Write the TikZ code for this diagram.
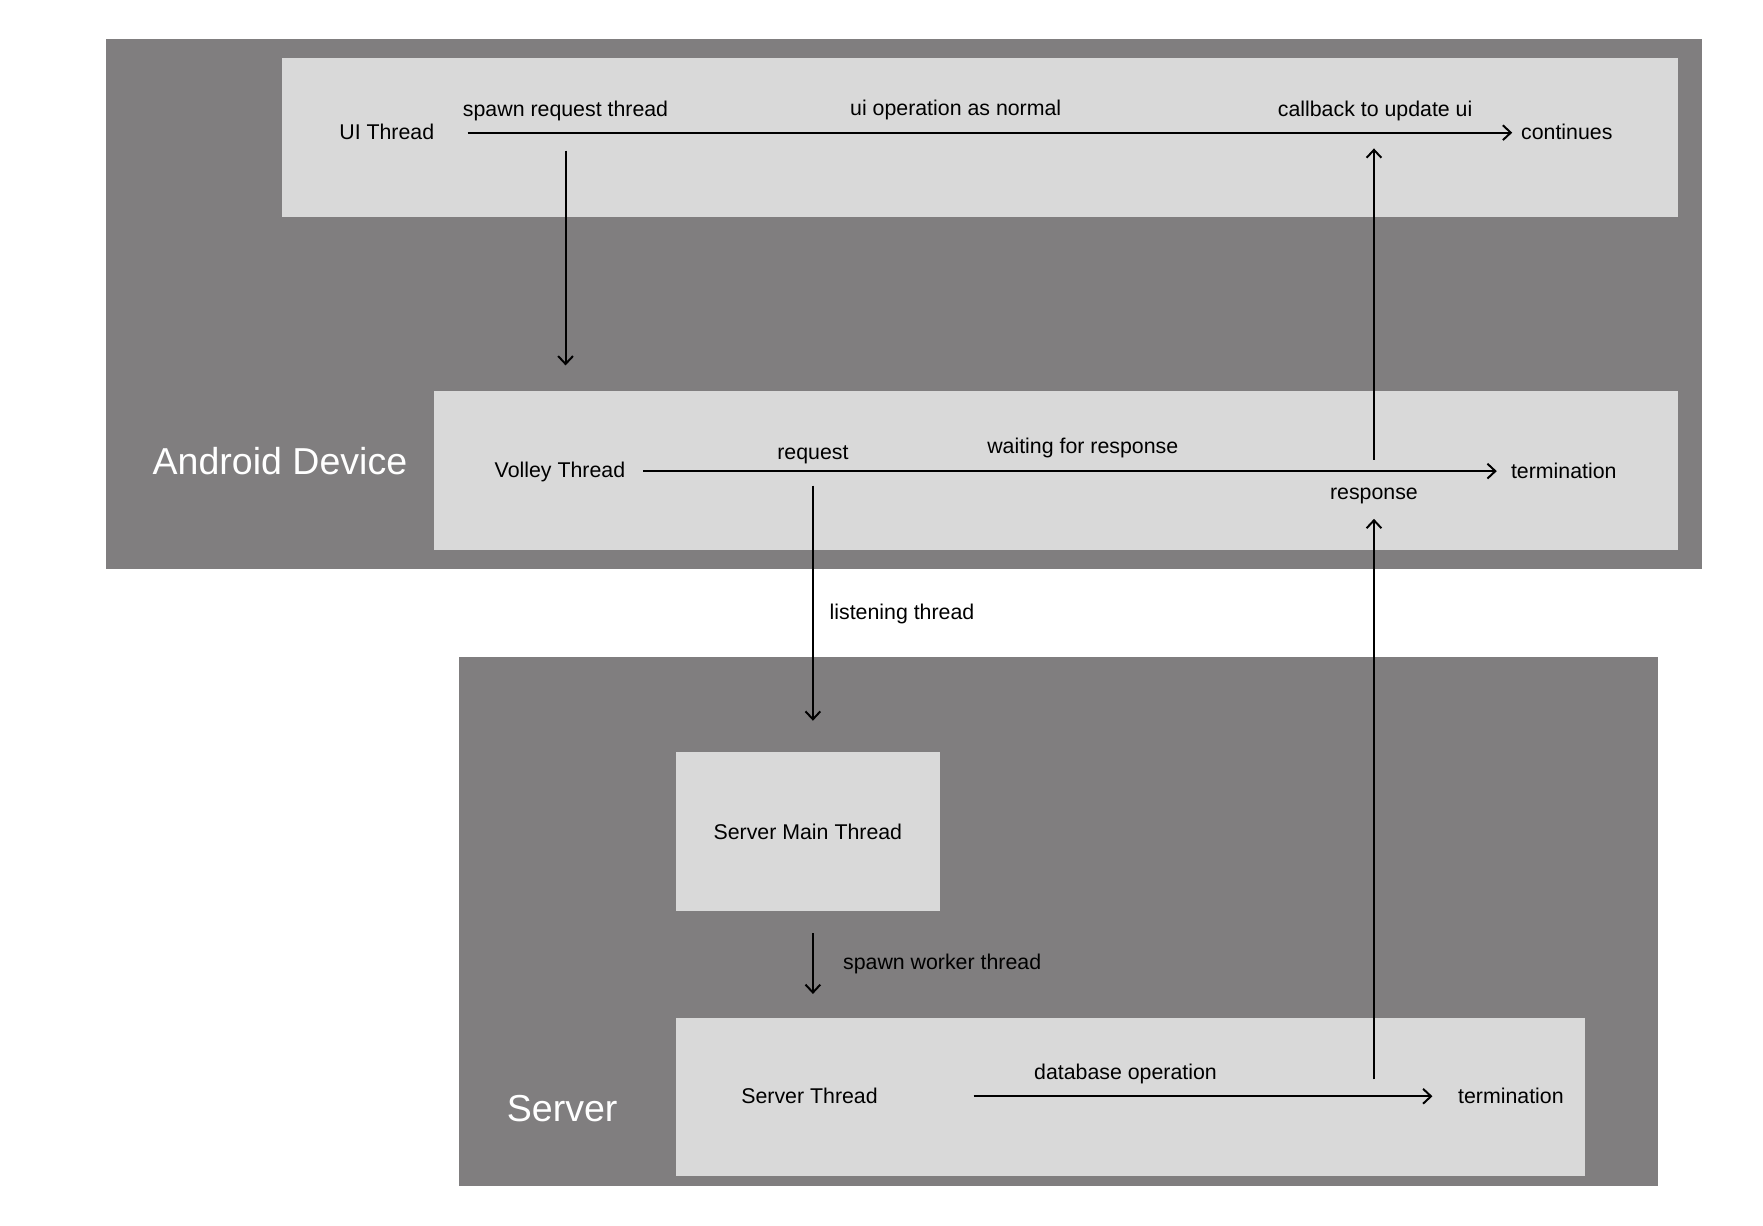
\documentclass[tikz,border=0pt]{standalone}
\usepackage{fontspec}
\setmainfont{Liberation Sans}
\usetikzlibrary{arrows.meta}
\definecolor{devgray}{HTML}{807E7F}
\definecolor{lanegray}{HTML}{D9D9D9}
\tikzset{
	lbl/.style={font=\fontsize{10.8}{13}\selectfont, inner sep=2pt, anchor=base},
	biglbl/.style={font=\fontsize{19}{23}\selectfont, text=white, inner sep=0pt, anchor=base},
	flow/.style={line width=1pt, -{Straight Barb[length=4pt,width=7.5pt]}},
}
\begin{document}
\begin{tikzpicture}[x=0.02cm, y=-0.02cm]
			%%%%% START %%%%%
			\useasboundingbox (0, 0) rectangle (1568, 1090);
			
			% android device
			\fill[devgray] (94, 35) rectangle (1514, 506);
			\fill[lanegray] (251, 52) rectangle (1492, 193);
			\fill[lanegray] (386, 348) rectangle (1492, 489);
			\node[biglbl] (android) at (249, 422) {Android Device};
			
			% server
			\fill[devgray] (408, 584) rectangle (1475, 1055);
			\fill[lanegray] (601, 905) rectangle (1410, 1046);
			\node[biglbl] (server) at (500, 997) {Server};
			\node[fill=lanegray, minimum width=4.7cm, minimum height=2.82cm, font=\fontsize{10.8}{13}\selectfont] (smain) at (718.5, 739.5) {Server Main Thread};
			
			% ui thread
			\node[lbl] (uithr) at (344, 124) {UI Thread};
			\node[lbl] (spawnlbl) at (503, 104) {spawn request thread};
			\node[lbl] (uiop) at (850, 103) {ui operation as normal};
			\node[lbl] (cbk) at (1223, 104) {callback to update ui};
			\node[lbl, anchor=base west] (cont) at (1349, 124) {continues};
			\coordinate (uistart) at (416, 118);
			\draw[flow, shorten >=2.3pt] (uistart) -- (uistart -| cont.west);
			
			% volley thread
			\node[lbl] (volley) at (498, 425) {Volley Thread};
			\node[lbl] (req) at (723, 409) {request};
			\node[lbl] (wait) at (963, 403) {waiting for response};
			\node[lbl, anchor=base west] (term1) at (1340, 426) {termination};
			\node[lbl] (resp) at (1222, 444) {response};
			\coordinate (vstart) at (572, 419);
			\draw[flow, shorten >=5pt] (vstart) -- (vstart -| term1.west);
			
			% server thread
			\node[lbl] (sthr) at (720, 981) {Server Thread};
			\node[lbl] (dbop) at (1001, 960) {database operation};
			\node[lbl, anchor=base west] (term2) at (1293, 981) {termination};
			\coordinate (sstart) at (866, 975);
			\coordinate (send) at (1274, 975);
			\draw[flow] (sstart) -- (send);
			
			% between threads
			\coordinate (spawnfoot) at (503, 134);
			\coordinate (spawnhead) at (503, 325);
			\draw[flow] (spawnfoot) -- (spawnhead);
			
			\coordinate (reqfoot) at (723, 432);
			\coordinate (reqhead) at (723, 641);
			\draw[flow] (reqfoot) -- (reqhead);
			\node[lbl, anchor=base west] (listen) at (734, 551) {listening thread};
			
			\coordinate (workfoot) at (723, 830);
			\coordinate (workhead) at (723, 884);
			\draw[flow] (workfoot) -- (workhead);
			\node[lbl, anchor=base west] (sworker) at (746, 862) {spawn worker thread};
			
			\coordinate (dbfoot) at (1222, 960);
			\draw[flow, shorten >=5.5pt] (dbfoot) -- (resp.south);
			\coordinate (cbfoot) at (1222, 409);
			\coordinate (cbhead) at (1222, 132);
			\draw[flow] (cbfoot) -- (cbhead);
			%%%%% END %%%%%
\end{tikzpicture}
\end{document}
